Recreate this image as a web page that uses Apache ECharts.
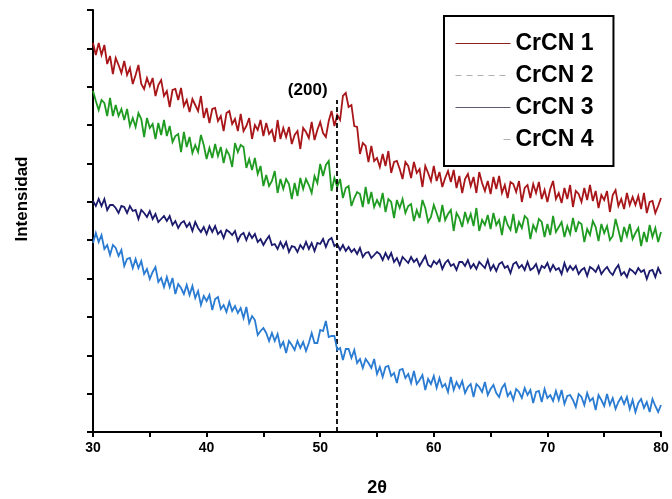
<!DOCTYPE html>
<html>
<head>
<meta charset="utf-8">
<script src="https://cdn.jsdelivr.net/npm/echarts@6/dist/echarts.min.js"></script>
<style>
  html, body { margin: 0; padding: 0; background: #fff; }
  #chart { width: 672px; height: 499px; }
</style>
</head>
<body>
<div id="chart"></div>
<script>
// XRD scans of the CrCN coatings, 2θ from 30° to 80° in 0.25° steps (intensity in a.u., offset per sample)
const scanStart = 30;
const scanStep = 0.25;

const crcn1 = [
  389,377,389,377,387,368,376,358,374,367,359,371,357,364,348,357,367,348,343,354,
  346,354,336,347,352,336,341,325,342,343,332,344,326,332,320,333,327,321,336,314,
  324,309,323,324,311,316,301,319,321,308,313,301,318,301,306,314,293,307,302,312,
  296,309,298,302,290,312,293,304,295,305,288,297,301,283,304,300,294,310,292,302,
  310,299,295,311,321,306,317,312,336,339,325,327,306,305,278,289,286,270,286,271,
  274,265,278,266,281,259,270,271,263,253,270,266,254,270,259,263,245,266,259,251,
  266,251,260,245,254,261,250,262,244,256,239,253,258,246,255,239,260,249,241,251,
  238,255,243,256,239,247,234,250,248,240,251,230,244,247,234,248,239,250,233,242,
  230,243,251,233,239,229,244,233,247,225,241,238,230,244,232,247,231,241,224,237,
  232,241,220,237,242,226,233,223,239,227,235,227,236,223,239,219,230,231,219,226,234
];

const crcn2 = [
  341,331,322,332,329,316,334,316,327,316,323,312,323,306,314,305,319,313,295,314,304,
  308,293,309,297,312,296,306,290,296,298,280,300,285,295,279,287,280,297,287,273,
  284,274,288,276,285,269,282,277,265,289,280,287,285,264,273,262,274,258,266,246,
  257,246,251,261,239,253,243,253,248,233,249,236,254,243,253,247,239,256,249,268,
  256,267,271,241,254,245,253,234,244,246,226,234,240,238,225,245,228,240,225,232,
  226,239,220,233,230,214,232,224,233,219,226,228,211,222,214,232,224,210,215,227,
  219,210,227,212,218,222,201,219,214,205,220,210,218,206,224,201,212,207,217,203,
  219,207,212,197,216,207,202,218,199,210,204,216,213,193,207,201,213,210,195,208,
  197,216,200,205,210,195,206,198,214,200,210,208,190,203,197,211,205,191,208,199,
  206,192,196,213,202,190,205,196,208,193,199,204,186,200,190,207,195,204,190,200
];

const crcn3 = [
  231,226,233,226,233,222,227,227,224,219,226,225,219,226,221,222,213,222,219,215,
  221,213,218,210,213,216,211,216,207,211,204,209,211,205,209,201,210,204,200,205,
  198,206,200,206,198,201,194,202,200,197,201,191,197,199,192,199,194,198,190,193,
  187,192,196,187,188,183,190,184,190,180,186,185,180,187,183,190,183,189,181,189,
  188,193,185,192,194,186,188,182,187,181,185,180,183,178,184,175,179,180,174,177,180,
  178,172,179,173,179,170,174,167,175,172,169,175,170,173,166,171,176,167,165,171,
  168,172,163,169,172,166,168,162,170,170,166,172,164,168,163,170,167,164,172,162,
  167,161,168,170,164,166,159,168,170,164,167,162,170,162,164,168,159,166,164,169,
  161,167,162,164,158,169,161,166,162,166,158,162,164,156,165,163,160,166,158,162,
  165,160,157,163,167,157,160,155,163,161,158,164,160,162,153,161,162,155,164,158
];

const crcn4 = [
  189,199,190,197,183,187,177,187,184,176,182,166,173,174,164,173,164,171,158,163,
  153,160,165,150,154,145,155,145,154,138,148,144,138,147,137,146,134,141,127,136,
  131,137,122,133,135,123,127,120,130,121,126,119,124,114,125,109,116,112,97,101,104,
  99,91,99,91,98,85,90,79,91,87,82,91,84,90,81,89,99,89,89,102,
  101,111,95,96,96,82,84,72,83,83,74,82,69,73,64,73,69,64,73,58,
  65,55,65,66,56,59,49,62,63,54,58,49,61,48,52,57,42,53,48,56,
  44,54,45,48,40,55,42,50,44,51,39,45,48,35,48,45,40,50,37,43,
  47,39,35,44,48,36,40,32,43,40,34,44,37,42,29,40,41,30,43,34,
  37,31,41,32,42,28,36,37,32,25,38,35,27,39,31,34,22,37,32,26,
  38,27,34,23,30,35,28,35,23,32,20,29,33,24,30,20,33,26,20,27
];

const seriesNames = ['CrCN 1', 'CrCN 2', 'CrCN 3', 'CrCN 4'];
const xTicks = [30, 40, 50, 60, 70, 80];

// (200) reflection marker
const peak200 = 51.5;
const peak200Top = 332;
const peak200Label = '(200)';
const peak200LabelAt = [48.9, 342];

const FONT = '"Liberation Sans", Arial, Helvetica, sans-serif';
const twoTheta = crcn1.map((_, i) => +(scanStart + i * scanStep).toFixed(2));
const toPairs = arr => arr.map((v, i) => [twoTheta[i], v]);

const colors = ['#a8161a', '#1f9b22', '#1b1a6c', '#2a7bd2'];
const legendLines = [
  { color: '#8a2020', type: 'solid', width: 1 },
  { color: '#b0b0b0', type: [6, 5], width: 1 },
  { color: '#5a5a70', type: 'solid', width: 1 },
  { color: '#b0b0b0', type: [7, 60], dashOffset: 19, width: 1 }
];

const chart = echarts.init(document.getElementById('chart'), null, { renderer: 'canvas' });

const seriesData = [crcn1, crcn2, crcn3, crcn4];
const series = seriesData.map((arr, k) => ({
  name: seriesNames[k],
  type: 'line',
  data: toPairs(arr),
  symbol: 'none',
  showSymbol: false,
  animation: false,
  lineStyle: { color: colors[k], width: 1.8, join: 'miter', miterLimit: 4 },
  itemStyle: { color: colors[k] },
  z: 2 + k
}));

series[0].markLine = {
  silent: true,
  symbol: 'none',
  animation: false,
  label: { show: false },
  lineStyle: { color: '#000', type: [5, 3], width: 1.8 },
  data: [[{ coord: [peak200, 0] }, { coord: [peak200, peak200Top] }]]
};
series[0].markPoint = {
  silent: true,
  animation: false,
  symbol: 'circle',
  symbolSize: 1,
  itemStyle: { color: 'rgba(0,0,0,0)' },
  label: {
    show: true, position: 'inside', formatter: peak200Label,
    color: '#000', fontFamily: FONT, fontWeight: 'bold', fontSize: 17
  },
  data: [{ coord: peak200LabelAt }]
};

const option = {
  backgroundColor: '#fff',
  animation: false,
  grid: { left: 93, right: 11, top: 10, bottom: 67, containLabel: false, outerBoundsMode: 'none' },
  legend: {
    orient: 'vertical',
    left: 444, top: 16,
    padding: [16, 20, 15, 11],
    itemWidth: 55, itemHeight: 12, itemGap: 9, itemTextGap: 8,
    backgroundColor: '#fff', borderColor: '#000', borderWidth: 2,
    textStyle: { fontFamily: FONT, fontWeight: 'bold', fontSize: 23, color: '#000', lineHeight: 22 },
    data: seriesNames.map((n, k) => ({ name: n, lineStyle: legendLines[k], itemStyle: { opacity: 0 } }))
  },
  xAxis: {
    type: 'value', min: 30, max: 80, interval: 5,
    name: '2θ', nameLocation: 'middle', nameGap: 47,
    nameTextStyle: { fontFamily: FONT, fontWeight: 'bold', fontSize: 18, color: '#000' },
    axisLine: { show: true, onZero: false, lineStyle: { color: '#000', width: 2 } },
    axisTick: { show: true, inside: false, length: 5, lineStyle: { color: '#000', width: 2 } },
    axisLabel: {
      color: '#000', fontFamily: FONT, fontWeight: 'bold', fontSize: 14, margin: 9,
      formatter: v => (xTicks.indexOf(v) >= 0 ? String(v) : '')
    },
    splitLine: { show: false }
  },
  yAxis: [
    {
      type: 'value', min: 0, max: 422, position: 'left',
      axisLine: { show: true, lineStyle: { color: '#000', width: 2 } },
      axisTick: { show: false }, axisLabel: { show: false }, splitLine: { show: false }
    },
    {
      type: 'value', min: 7.3, max: 422, interval: 37.7, position: 'left', offset: 0,
      axisLine: { show: false },
      axisTick: { show: true, inside: false, length: 6, lineStyle: { color: '#000', width: 2 } },
      axisLabel: { show: false }, splitLine: { show: false }
    }
  ],
  graphic: [{
    type: 'text', x: 22, y: 199, rotation: Math.PI / 2,
    style: {
      text: 'Intensidad', fill: '#000', font: 'bold 17px ' + FONT,
      align: 'center', verticalAlign: 'middle', textAlign: 'center', textVerticalAlign: 'middle'
    }
  }],
  series: series
};

chart.setOption(option);
</script>
</body>
</html>
